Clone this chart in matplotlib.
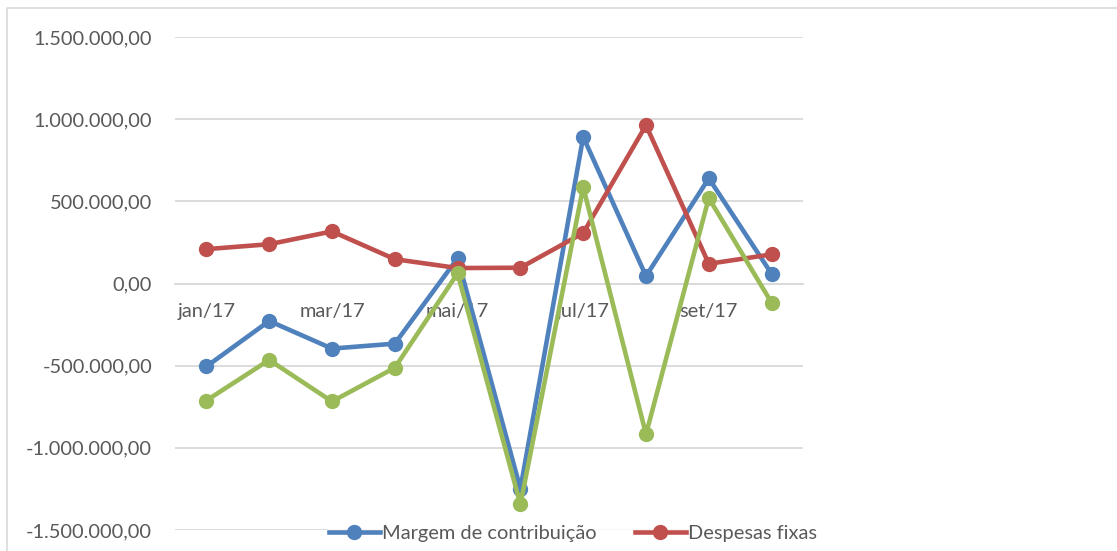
import matplotlib
matplotlib.use("Agg")
import matplotlib.pyplot as plt
from matplotlib.lines import Line2D
from matplotlib.ticker import FuncFormatter, FixedLocator

plt.rcParams['font.family'] = ['Lato', 'DejaVu Sans']

months = ["jan/17", "fev/17", "mar/17", "abr/17", "mai/17",
          "jun/17", "jul/17", "ago/17", "set/17", "out/17"]
margem = [-505000, -228000, -396000, -366000, 154000,
          -1249000, 892000, 45000, 640000, 59000]
despesas = [209000, 239000, 317000, 148000, 94000,
            96000, 307000, 963000, 120000, 177000]
resultado = [-712000, -465000, -718000, -513000, 62000,
             -1343000, 586000, -917000, 520000, -117000]
series_names = ["Margem de contribuição", "Despesas fixas", "Resultado"]
title_text = "Gráfico 1 – Evolução da margem de contribuição e despesas fixas durante o período (2017)"

BLUE = "#4F81BD"
RED = "#C0504D"
GREEN = "#9BBB59"
GRID = "#D9D9D9"
TXT = "#595959"
FS = 14.4

W, H = 1117, 551
fig = plt.figure(figsize=(W / 100, H / 100), dpi=100)

# chart area border (partially visible)
fig.add_artist(Line2D([7 / W, 7 / W, 1.0], [0, 1 - 8 / H, 1 - 8 / H],
                      transform=fig.transFigure, color=GRID, lw=1.2))

# caption above the chart, cut off at the top edge as in the reference
fig.text(26 / W, 1 + 5 / H, title_text, ha='left', va='baseline',
         fontsize=18.8, color='black')

ax = fig.add_axes([175 / W, (H - 530) / H, 628 / W, 493 / H])
x = list(range(len(months)))
lw = 3.3
ms = 10
l1, = ax.plot(x, margem, color=BLUE, lw=lw, marker='o', ms=ms, zorder=3,
              label=series_names[0], solid_joinstyle='round')
l2, = ax.plot(x, despesas, color=RED, lw=lw, marker='o', ms=ms, zorder=3,
              label=series_names[1], solid_joinstyle='round')
l3, = ax.plot(x, resultado, color=GREEN, lw=lw, marker='o', ms=ms, zorder=4,
              label=series_names[2], solid_joinstyle='round')

ax.set_xlim(-0.5, len(months) - 0.5)
ax.set_ylim(-1500000, 1500000)
ax.yaxis.set_major_locator(FixedLocator([-1500000, -1000000, -500000, 0,
                                         500000, 1000000, 1500000]))


def fmt(v, pos):
    s = f"{abs(v):,.2f}".replace(",", "X").replace(".", ",").replace("X", ".")
    return ("-" if v < 0 else "") + s


ax.yaxis.set_major_formatter(FuncFormatter(fmt))
ax.grid(axis='y', color=GRID, lw=1.3, zorder=0)
ax.set_axisbelow(True)
for s in ['top', 'right', 'left']:
    ax.spines[s].set_visible(False)
ax.spines['bottom'].set_position(('data', 0))
ax.spines['bottom'].set_color(GRID)
ax.spines['bottom'].set_linewidth(1.3)
ax.set_xticks(x[::2])
ax.set_xticklabels(months[::2])
ax.tick_params(axis='x', length=0, pad=14, labelsize=FS, labelcolor=TXT)
ax.tick_params(axis='y', length=0, pad=16.5, labelsize=FS, labelcolor=TXT)

leg = fig.legend(handles=[l1, l2], loc='center', bbox_to_anchor=(573 / W, (H - 533) / H),
                 ncol=2, frameon=True, fontsize=FS, handlelength=2.55,
                 handletextpad=0.12, columnspacing=1.9, borderpad=0.1,
                 borderaxespad=0)
leg.get_frame().set_facecolor('white')
leg.get_frame().set_edgecolor('none')
for t in leg.get_texts():
    t.set_color(TXT)

fig.savefig("out.png", dpi=100)
